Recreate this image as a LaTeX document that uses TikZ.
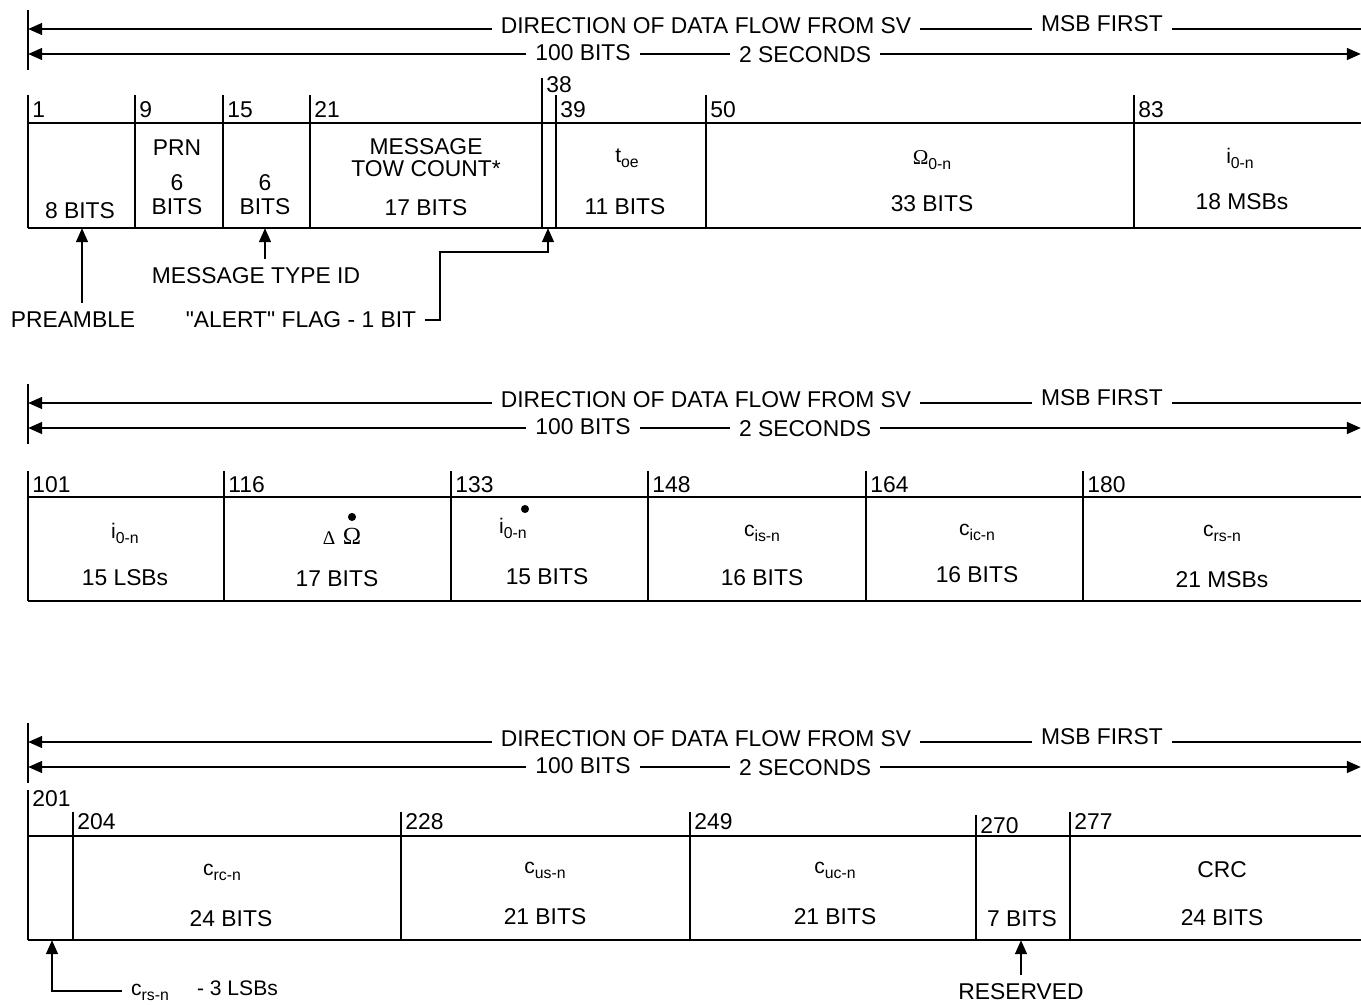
\documentclass[tikz,border=0pt]{standalone}
\usepackage{fontspec}
\setmainfont{Liberation Sans}[Ligatures=TeXOff]
\newfontfamily\greekfont{Liberation Serif}
\usetikzlibrary{arrows.meta,positioning,calc}

% symbol with a lowered small subscript
\newcommand{\sym}[2]{#1\raisebox{-0.45ex}{\fontsize{9}{9}\selectfont #2}}

\tikzset{
  line/.style={line width=1.6pt},
  arr/.style={line width=1.6pt, -{Triangle[length=8pt,width=6.5pt]}},
  hdr/.style={inner sep=5pt},
  num/.style={anchor=base west, inner sep=0pt},
  fld/.style={inner sep=0pt},
  symb/.style={inner sep=0pt, font=\fontsize{12}{14}\selectfont},
  note/.style={inner sep=5pt}
}

\begin{document}
\begin{tikzpicture}[x=0.02cm, y=-0.02cm, font=\fontsize{13}{15}\selectfont]
\useasboundingbox (0,0) rectangle (1361,1006);

% Headers (one per row)
\foreach \r/\dy in {a/0, b/374, c/713} {
  \draw [line] (28,10+\dy) -- (28,70+\dy);
  \node [hdr] (dir\r) at (706,26+\dy) {DIRECTION OF DATA FLOW FROM SV};
  \node [hdr] (msb\r) at (1102,24+\dy) {MSB FIRST};
  \node [hdr] (bits\r) at (583,53+\dy) {100 BITS};
  \node [hdr] (sec\r) at (805,55+\dy) {2 SECONDS};
  \coordinate (la\r) at (28,29+\dy); \coordinate (ra\r) at (1361,29+\dy);
  \coordinate (lb\r) at (28,54+\dy); \coordinate (rb\r) at (1361,54+\dy);
  \draw [arr] (dir\r.west |- la\r) -- (la\r);
  \draw [line] (dir\r.east |- la\r) -- (msb\r.west |- la\r);
  \draw [line] (msb\r.east |- la\r) -- (ra\r);
  \draw [arr] (bits\r.west |- lb\r) -- (lb\r);
  \draw [line] (bits\r.east |- lb\r) -- (sec\r.west |- lb\r);
  \draw [arr] (sec\r.east |- lb\r) -- (rb\r);
}

% Row 1: words 1-100
\draw [line] (28,123) -- (1361,123);
\draw [line] (28,228) -- (1361,228);
\foreach \x/\n in {28/1, 135/9, 223/15, 310/21, 556/39, 706/50, 1134/83} {
  \draw [line] (\x,95) -- (\x,228); \node [num] (n\n) at (\x+4,118) {\n};
}
\draw [line] (542,78) -- (542,228); \node [num] (n38) at (546,93) {38};

\node [fld] (pre8) at (80,211) {8 BITS};
\node [fld] (prn) at (177,148) {PRN};
\node [fld] (prn6) at (177,183) {6};
\node [fld] (prnbits) at (177,207) {BITS};
\node [fld] (typ6) at (265,183) {6};
\node [fld] (typbits) at (265,207) {BITS};
\node [fld] (tow1) at (426,147) {MESSAGE};
\node [fld] (tow2) at (426,169) {TOW COUNT*};
\node [fld] (towbits) at (426,208) {17 BITS};
\node [symb] (toe) at (627,158) {\sym{t}{oe}};
\node [fld] (toebits) at (625,207) {11 BITS};
\node [symb] (om) at (932,160) {\sym{{\greekfont Ω}}{0-n}};
\node [fld] (ombits) at (932,204) {33 BITS};
\node [symb] (ia) at (1240,158) {\sym{i}{0-n}};
\node [fld] (iabits) at (1242,202) {18 MSBs};

% Row 1 notes
\coordinate (tpre) at (82,228);
\coordinate (ttyp) at (265,228);
\coordinate (talert) at (548,228);
\coordinate (bend) at (440,252);
\node [note] (pre) at (73,320) {PREAMBLE};
\node [note] (typ) at (256,276) {MESSAGE TYPE ID};
\node [note] (alert) at (301,320) {"ALERT" FLAG - 1 BIT};
\draw [arr] (pre.north -| tpre) -- (tpre);
\draw [arr] (typ.north -| ttyp) -- (ttyp);
\draw [arr] (alert.east) -| (bend) -| (talert);

% Row 2: words 101-200
\draw [line] (28,497) -- (1361,497);
\draw [line] (28,601) -- (1361,601);
\foreach \x/\n in {28/101, 224/116, 451/133, 648/148, 866/164, 1083/180} {
  \draw [line] (\x,471) -- (\x,601); \node [num] (n\n) at (\x+4,492) {\n};
}
\node [symb] (ib) at (125,533) {\sym{i}{0-n}};
\node [fld] (ibbits) at (125,578) {15 LSBs};
\node [symb, font=\fontsize{11}{13}\selectfont\greekfont] (dlt) at (329,538) {Δ};
\node [symb, font=\fontsize{14}{16}\selectfont\greekfont] (omd) at (352,536) {Ω};
\fill ([yshift=6pt]omd.north) circle [radius=2.3pt];
\node [fld] (dombits) at (337,579) {17 BITS};
\node [symb] (idot) at (513,528) {\sym{i}{0-n}};
\fill (525,509) circle [radius=2.3pt];
\node [fld] (idotbits) at (547,577) {15 BITS};
\node [symb] (cis) at (762,533) {\sym{c}{is-n}};
\node [fld] (cisbits) at (762,578) {16 BITS};
\node [symb] (cic) at (977,532) {\sym{c}{ic-n}};
\node [fld] (cicbits) at (977,575) {16 BITS};
\node [symb] (crs) at (1222,533) {\sym{c}{rs-n}};
\node [fld] (crsbits) at (1222,580) {21 MSBs};

% Row 3: words 201-300
\draw [line] (28,836) -- (1361,836);
\draw [line] (28,940) -- (1361,940);
\draw [line] (28,790) -- (28,940); \node [num] (n201) at (32,806) {201};
\foreach \x/\n in {73/204, 401/228, 690/249, 1070/277} {
  \draw [line] (\x,812) -- (\x,940); \node [num] (n\n) at (\x+4,829) {\n};
}
\draw [line] (976,815) -- (976,940); \node [num] (n270) at (980,833) {270};

\node [symb] (crc) at (222,872) {\sym{c}{rc-n}};
\node [fld] (crcbits) at (231,919) {24 BITS};
\node [symb] (cus) at (545,870) {\sym{c}{us-n}};
\node [fld] (cusbits) at (545,917) {21 BITS};
\node [symb] (cuc) at (835,870) {\sym{c}{uc-n}};
\node [fld] (cucbits) at (835,917) {21 BITS};
\node [fld] (rsvbits) at (1022,919) {7 BITS};
\node [fld] (crcw) at (1222,870) {CRC};
\node [fld] (crcwbits) at (1222,918) {24 BITS};

% Row 3 notes
\coordinate (tlsb) at (52,940);
\coordinate (trsv) at (1021,940);
\node [note, anchor=west] (lsb) at (122,991) {\sym{\fontsize{12}{14}\selectfont c}{rs-n}\hspace{16pt}- 3 LSBs};
\node [note] (rsv) at (1021,992) {RESERVED};
\draw [arr] (lsb.west) -| (tlsb);
\draw [arr] (rsv.north) -- (trsv);
\end{tikzpicture}
\end{document}
